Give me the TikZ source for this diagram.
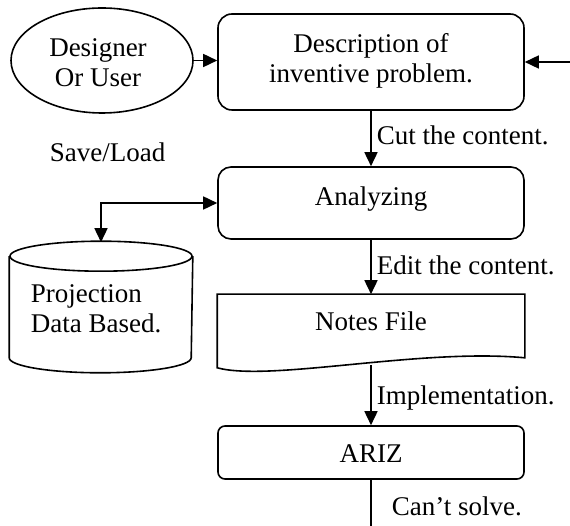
\documentclass[tikz,border=0pt]{standalone}
\usepackage{fontspec}
\setmainfont{Liberation Serif}
\usetikzlibrary{arrows.meta,shapes.geometric}
\begin{document}
\begin{tikzpicture}[x=1pt,y=-1pt, line width=1.6pt,
  every node/.style={font=\fontsize{27}{30}\selectfont, inner sep=0pt},
  box/.style={draw, rectangle, minimum width=306pt},
  txt/.style={anchor=base, align=center},
  lbl/.style={anchor=base west},
  tip/.tip={Triangle[length=14pt,width=13pt]},
  arr/.style={-tip},
  ]
\useasboundingbox (0,0) rectangle (570,526);
% shapes
\node[draw, ellipse, minimum width=182pt, minimum height=105pt] (user) at (102,60.5) {};
\node[txt] (usertxt) at (98,87) {Designer\\Or User};
\node[box, rounded corners=14pt, minimum height=96pt] (desc) at (371,62) {};
\node[txt] (desctxt) at (371,83) {Description of\\inventive problem.};
\node[box, rounded corners=13pt, minimum height=72pt] (ana) at (371,203) {};
\node[txt] (anatxt) at (371,206) {Analyzing};
\node[rectangle, minimum width=306pt, minimum height=69pt] (notes) at (371,329.5) {};
\draw ([yshift=-3pt]notes.south west) -- (notes.north west) -- (notes.north east)
  -- ([yshift=7pt]notes.south east) .. controls (420,348) and (270,382) .. ([yshift=-3pt]notes.south west) -- cycle;
\node[txt] (notestxt) at (371,331) {Notes File};
\node[box, rounded corners=7pt, minimum height=53pt] (ariz) at (371,452.5) {};
\node[txt] (ariztxt) at (371,462) {ARIZ};
\node[rectangle, minimum width=182pt, minimum height=100pt] (db) at (101,307) {};
\draw (db.north) ellipse [x radius=91pt, y radius=15pt];
\draw (db.north west) -- (db.south west) arc[start angle=180, end angle=360, x radius=91pt, y radius=15pt] -- (db.north east);
\node[anchor=base west, align=left] (dbtxt) at (30,333) {Projection\\Data Based.};
\coordinate (dbtop) at ([yshift=14pt]db.north);
% connectors
\coordinate (rin) at (570,62);
\coordinate (bot) at (371,526);
\draw[arr] (user.east) -- (desc.west |- user.east);
\draw[arr] (rin) -- (desc.east);
\draw[arr] (desc.south) -- (ana.north);
\draw[arr] (ana.south) -- (notes.north);
\draw[arr] (notes.south) -- (ariz.north);
\draw (ariz.south) -- (bot);
\draw[tip-tip] (dbtop) |- (ana.west);
% labels
\node[lbl] (cut) at (376,145) {Cut the content.};
\node[lbl] (edit) at (376,275) {Edit the content.};
\node[lbl] (impl) at (376,404) {Implementation.};
\node[lbl] (cant) at (391,515) {Can't solve.};
\node[lbl] (save) at (49,162) {Save/Load};
\end{tikzpicture}
\end{document}
